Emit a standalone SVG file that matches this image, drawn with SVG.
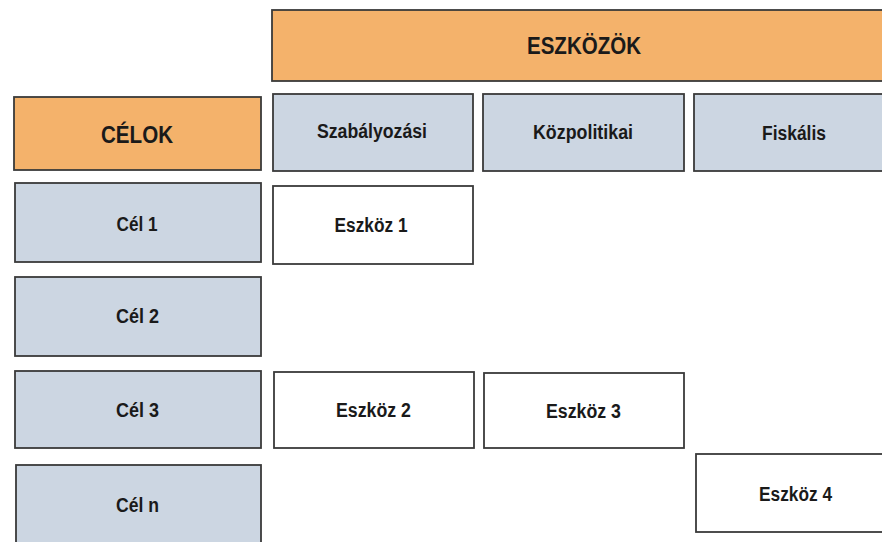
<svg xmlns="http://www.w3.org/2000/svg" width="882" height="542" viewBox="0 0 882 542">
<style>
.box{stroke:#3a3a3a;stroke-width:1.8}
.org{fill:#F4B26B}
.blu{fill:#CCD6E2}
.wht{fill:#FFFFFF}
text{font-family:"Liberation Sans",Arial,sans-serif;font-weight:bold;fill:#1a1a1a;text-anchor:middle}
.big{font-size:23px}
.sm{font-size:20px}
</style>
<rect width="882" height="542" fill="#FFFFFF"/>
<g id="connectors"></g>
<g id="eszkozok"><rect class="box org" x="272" y="10" width="624" height="71"/><text class="big" x="584" y="54" textLength="114" lengthAdjust="spacingAndGlyphs">ESZKÖZÖK</text></g>
<g id="celok"><rect class="box org" x="14" y="97" width="247" height="73"/><text class="big" x="137" y="142.5" textLength="72" lengthAdjust="spacingAndGlyphs">CÉLOK</text></g>
<g id="szabalyozasi"><rect class="box blu" x="273" y="94" width="200" height="77"/><text class="sm" x="372" y="138" textLength="110" lengthAdjust="spacingAndGlyphs">Szabályozási</text></g>
<g id="kozpolitikai"><rect class="box blu" x="483" y="94" width="201" height="77"/><text class="sm" x="583" y="139" textLength="100" lengthAdjust="spacingAndGlyphs">Közpolitikai</text></g>
<g id="fiskalis"><rect class="box blu" x="694" y="94" width="200" height="77"/><text class="sm" x="794" y="139.5" textLength="64" lengthAdjust="spacingAndGlyphs">Fiskális</text></g>
<g id="cel1"><rect class="box blu" x="15" y="183" width="246" height="79"/><text class="sm" x="137" y="230.5" textLength="41" lengthAdjust="spacingAndGlyphs">Cél 1</text></g>
<g id="eszkoz1"><rect class="box wht" x="273" y="186" width="200" height="78"/><text class="sm" x="371" y="232" textLength="73" lengthAdjust="spacingAndGlyphs">Eszköz 1</text></g>
<g id="cel2"><rect class="box blu" x="15" y="277" width="246" height="79"/><text class="sm" x="137.5" y="323" textLength="43" lengthAdjust="spacingAndGlyphs">Cél 2</text></g>
<g id="cel3"><rect class="box blu" x="15" y="371" width="246" height="77"/><text class="sm" x="137.5" y="416.5" textLength="43" lengthAdjust="spacingAndGlyphs">Cél 3</text></g>
<g id="eszkoz2"><rect class="box wht" x="274" y="372" width="200" height="76"/><text class="sm" x="373.5" y="416.5" textLength="75" lengthAdjust="spacingAndGlyphs">Eszköz 2</text></g>
<g id="eszkoz3"><rect class="box wht" x="484" y="373" width="200" height="75"/><text class="sm" x="583.5" y="417.5" textLength="75" lengthAdjust="spacingAndGlyphs">Eszköz 3</text></g>
<g id="celn"><rect class="box blu" x="16" y="465" width="245" height="90"/><text class="sm" x="137.5" y="512" textLength="43" lengthAdjust="spacingAndGlyphs">Cél n</text></g>
<g id="eszkoz4"><rect class="box wht" x="696" y="454" width="200" height="78"/><text class="sm" x="795.5" y="500.5" textLength="73" lengthAdjust="spacingAndGlyphs">Eszköz 4</text></g>
</svg>
